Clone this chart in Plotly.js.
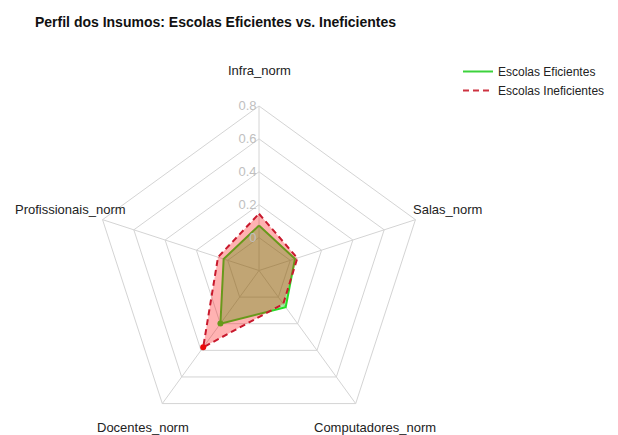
<!DOCTYPE html>
<html>
<head>
<meta charset="utf-8">
<script src="https://cdn.plot.ly/plotly-3.0.1.min.js"></script>
<style>html,body{margin:0;padding:0;background:#fff;}#chart{width:618px;height:435px;}</style>
</head>
<body>
<div id="chart"></div>
<script>
const categories = ["Infra_norm", "Salas_norm", "Computadores_norm", "Docentes_norm", "Profissionais_norm"];
const eficientes = [0.073, 0.030, 0.076, 0.199, 0.026];
const ineficientes = [0.145, 0.045, 0.051, 0.377, 0.062];
const seriesNames = ["Escolas Eficientes", "Escolas Ineficientes"];
const radialTicks = [0, 0.2, 0.4, 0.6, 0.8];
const radialTickText = ["0", "0.2", "0.4", "0.6", "0.8"];

function closed(a) { return a.concat([a[0]]); }

const W = 618, H = 435;
const cx = 259, cy = 271, R = 165;

const traces = [
  {
    type: "scatterpolar", r: closed(eficientes), theta: closed(categories),
    mode: "lines+markers", fill: "toself", fillcolor: "rgba(0,200,0,0.35)",
    line: {color: "rgb(40,220,40)", width: 2},
    marker: {color: "rgb(40,220,40)", size: 6},
    name: seriesNames[0], showlegend: false
  },
  {
    type: "scatterpolar", r: closed(ineficientes), theta: closed(categories),
    mode: "lines+markers", fill: "toself", fillcolor: "rgba(255,0,0,0.3)",
    line: {color: "rgb(200,25,45)", width: 2, dash: "6px,4px"},
    marker: {color: "rgb(235,10,10)", size: 6},
    name: seriesNames[1], showlegend: false
  },
  {
    type: "scatterpolar", r: [null], theta: [null], mode: "lines",
    line: {color: "rgb(60,210,60)", width: 2}, name: seriesNames[0]
  },
  {
    type: "scatterpolar", r: [null], theta: [null], mode: "lines",
    line: {color: "rgb(205,50,65)", width: 2, dash: "6px,4px"}, name: seriesNames[1]
  }
];

// label positions as in fmsb (1.2 × outer radius)
const angles = categories.map((c, i) => Math.PI / 2 - i * 2 * Math.PI / categories.length);
const annotations = categories.map((c, i) => {
  let py = cy - 1.2 * R * Math.sin(angles[i]);
  if (py > H - 8) py = H - 8;
  if (i === 0) py -= 2;
  return {
    text: c, showarrow: false, xref: "paper", yref: "paper",
    x: (cx + 1.2 * R * Math.cos(angles[i])) / W,
    y: 1 - py / H,
    xanchor: "center", yanchor: "middle",
    font: {family: "Liberation Sans, Arial, sans-serif", size: 13, color: "#222"}
  };
});

const layout = {
  width: W, height: H,
  margin: {l: 0, r: 0, t: 0, b: 0},
  paper_bgcolor: "#fff",
  font: {family: "Liberation Sans, Arial, sans-serif"},
  title: {
    text: "Perfil dos Insumos: Escolas Eficientes vs. Ineficientes",
    x: 35 / W, xanchor: "left", xref: "paper",
    y: 1 - 22 / H, yanchor: "middle", yref: "container",
    font: {family: "Liberation Sans, Arial, sans-serif", size: 14, color: "#111", weight: "bold"}
  },
  polar: {
    domain: {x: [(cx - R) / W, (cx + R) / W], y: [1 - (cy + R) / H, 1 - (cy - R) / H]},
    gridshape: "linear",
    bgcolor: "rgba(0,0,0,0)",
    radialaxis: {
      range: [-0.2, 0.8], tickvals: radialTicks, ticktext: radialTickText,
      angle: 90, tickangle: 90, side: "counterclockwise", showline: false, ticks: "",
      gridcolor: "#d4d4d4", gridwidth: 1,
      tickfont: {size: 13, color: "#c0c0c0"}
    },
    angularaxis: {
      type: "category", categoryarray: categories, rotation: 90, direction: "clockwise",
      showticklabels: false, ticks: "",
      gridcolor: "#d4d4d4", linecolor: "#d4d4d4", linewidth: 1, showline: true
    }
  },
  legend: {
    x: 458 / W, y: 1 - 57 / H, xanchor: "left", yanchor: "top",
    bgcolor: "rgba(0,0,0,0)", tracegroupgap: 0,
    font: {family: "Liberation Sans, Arial, sans-serif", size: 12, color: "#222"}
  },
  annotations: annotations
};

Plotly.newPlot("chart", traces, layout, {displayModeBar: false, staticPlot: true});
</script>
</body>
</html>
